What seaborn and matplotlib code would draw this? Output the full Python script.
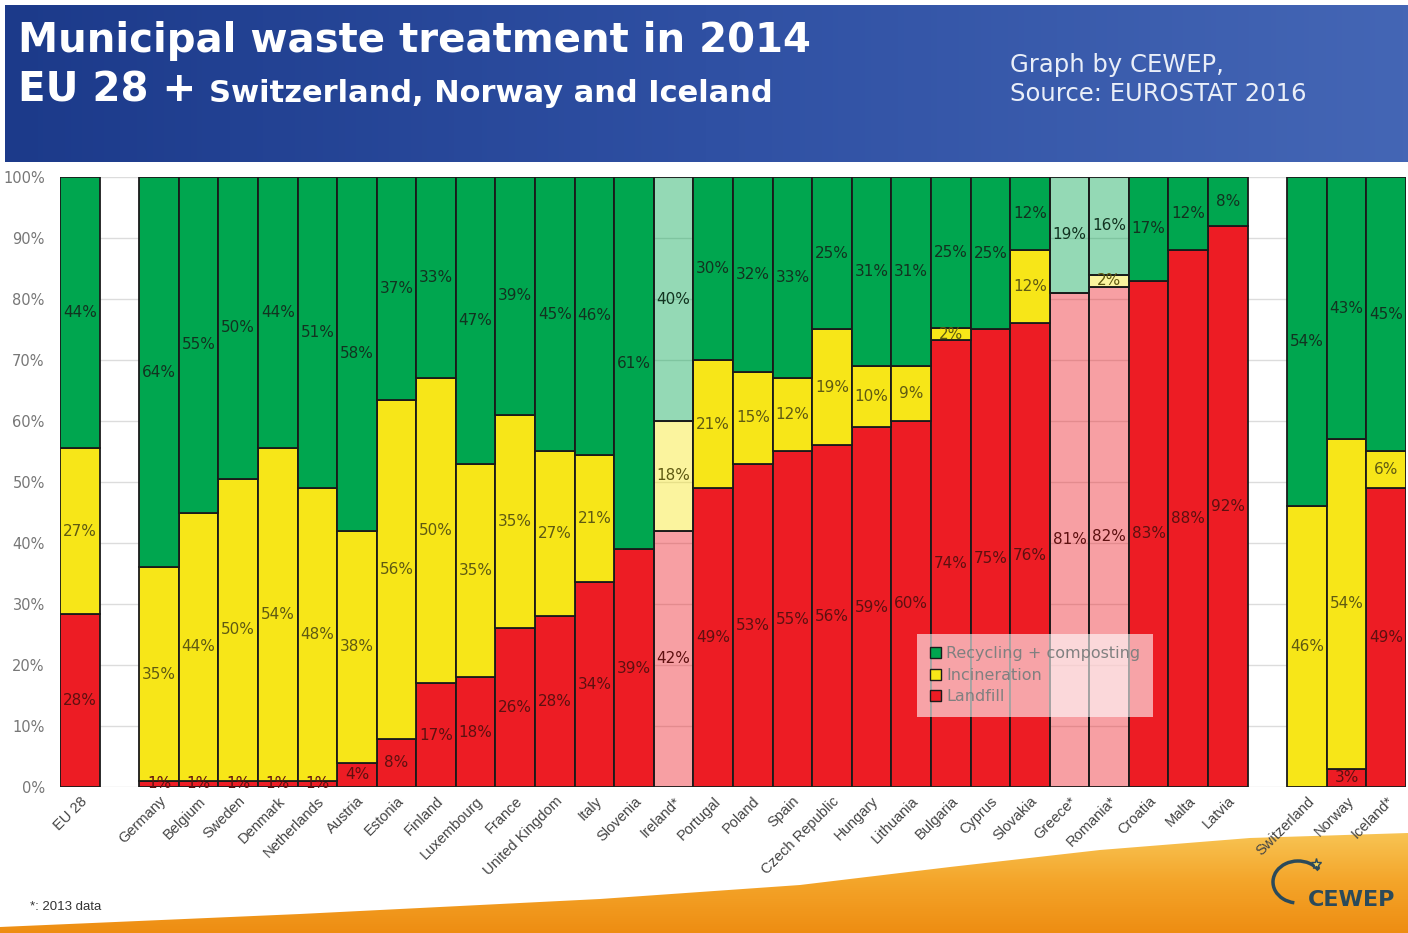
import numpy as np
import pandas as pd
import matplotlib
matplotlib.use('Agg')
import matplotlib.pyplot as plt
import seaborn as sns
from matplotlib.colors import LinearSegmentedColormap, to_rgba
from matplotlib.patches import Patch, Polygon, Arc

# data (shares in %, as labelled on the chart)
countries = ['EU 28', 'Germany', 'Belgium', 'Sweden', 'Denmark', 'Netherlands',
             'Austria', 'Estonia', 'Finland', 'Luxembourg', 'France',
             'United Kingdom', 'Italy', 'Slovenia', 'Ireland*', 'Portugal',
             'Poland', 'Spain', 'Czech Republic', 'Hungary', 'Lithuania',
             'Bulgaria', 'Cyprus', 'Slovakia', 'Greece*', 'Romania*', 'Croatia',
             'Malta', 'Latvia', 'Switzerland', 'Norway', 'Iceland*']
landfill = [28, 1, 1, 1, 1, 1, 4, 8, 17, 18, 26, 28, 34, 39, 42, 49, 53, 55, 56,
            59, 60, 74, 75, 76, 81, 82, 83, 88, 92, 0, 3, 49]
incineration = [27, 35, 44, 50, 54, 48, 38, 56, 50, 35, 35, 27, 21, 0, 18, 21,
                15, 12, 19, 10, 9, 2, 0, 12, 0, 2, 0, 0, 0, 46, 54, 6]
recycling = [44, 64, 55, 50, 44, 51, 58, 37, 33, 47, 39, 45, 46, 61, 40, 30, 32,
             33, 25, 31, 31, 25, 25, 12, 19, 16, 17, 12, 8, 54, 43, 45]
data_2013 = ['Ireland*', 'Greece*', 'Romania*']
# slot order on the x axis, with empty slots separating the groups
slots = (['EU 28', 'gap_a'] + countries[1:29] + ['gap_b'] + countries[29:])

# styles
W, H = 1408, 933
green, yellow, red = '#00a64f', '#f7e618', '#ed1c24'
txt_cols = {'landfill': '#5e1010', 'incineration': '#5f5a12',
            'recycling': '#123320'}
edge = '#1a1a1a'

df = pd.DataFrame(dict(country=countries, landfill=landfill,
                       incineration=incineration, recycling=recycling))
layers = [('landfill', red, 'Landfill'),
          ('incineration', yellow, 'Incineration'),
          ('recycling', green, 'Recycling + composting')]
# 100 % stacked: normalise each country to its total
total = df[['landfill', 'incineration', 'recycling']].sum(axis=1)
for col, _, _ in layers:
    df[col + '_n'] = df[col] / total * 100

sns.set_style('white')
fig = plt.figure(figsize=(W / 100, H / 100), dpi=100)

# background decorations (header banner, orange swoosh, logo)
bg = fig.add_axes([0, 0, 1, 1], zorder=-1)
bg.set_xlim(0, W)
bg.set_ylim(H, 0)
bg.axis('off')
blue = LinearSegmentedColormap.from_list('hdr', ['#1c3a8a', '#2f50a3', '#4466b5'])
bg.imshow(np.linspace(0, 1, 256)[None, :], cmap=blue, aspect='auto',
          extent=[5, W, 162, 5], zorder=1)
swoosh = Polygon([(0, 927), (300, 914), (600, 899), (800, 885), (950, 867),
                  (1100, 850), (1250, 838), (1408, 833), (1408, 933), (0, 933)],
                 closed=True, facecolor='none', edgecolor='none')
bg.add_patch(swoosh)
orange = LinearSegmentedColormap.from_list('org', ['#f8c656', '#f4a52a', '#ee8d12'])
im = bg.imshow(np.linspace(0, 1, 256)[:, None], cmap=orange, aspect='auto',
               extent=[0, W, 933, 830], zorder=1)
im.set_clip_path(swoosh)
bg.add_patch(Arc((1298, 882), 50, 42, theta1=100, theta2=330, lw=2.5,
                 color='#2b4a5a', zorder=3))
bg.plot([1316], [864], marker='*', ms=8, color='#f2d25a', mec='#2b4a5a', zorder=4)

# main chart
ax = fig.add_axes([60 / W, 1 - 787 / H, 1346 / W, 610 / H])
bottom = np.zeros(len(df))
for col, color, label in layers:
    sns.barplot(data=df, x='country', y=col + '_n', order=slots, color=color,
                saturation=1, width=1, bottom=bottom, edgecolor=edge,
                linewidth=1.3, errorbar=None, ax=ax, zorder=2)
    bottom = bottom + df[col + '_n'].to_numpy()

for (col, color, label), cont in zip(layers, ax.containers):
    for bar, name in zip(cont, df['country']):
        if name in data_2013:
            bar.set_facecolor(to_rgba(color, 0.42))
    labels = ['{}%'.format(v) if v > 0 else '' for v in df[col]]
    ax.bar_label(cont, labels=labels, label_type='center', fontsize=11,
                 color=txt_cols[col], zorder=5)

ax.set_xlim(-0.5, len(slots) - 0.5)
ax.set_ylim(0, 100)
ax.set_yticks(range(0, 101, 10))
ax.set_yticklabels(['{}%'.format(t) for t in range(0, 101, 10)],
                   color='#777777', fontsize=10.5)
ax.set_xticks(range(len(slots)))
ax.set_xticklabels(['' if s.startswith('gap') else s for s in slots],
                   rotation=45, ha='right', rotation_mode='anchor',
                   color='#444444', fontsize=10.5, family='Liberation Sans')
ax.tick_params(axis='both', length=0)
ax.tick_params(axis='y', pad=11)
ax.tick_params(axis='x', pad=5)
ax.yaxis.grid(True, color='#dcdcdc', lw=1, zorder=0)
ax.set_axisbelow(True)
ax.set_xlabel('')
ax.set_ylabel('')
for sp in ax.spines.values():
    sp.set_visible(False)

handles = [Patch(facecolor=c, edgecolor=edge, lw=1, label=l)
           for _, c, l in layers[::-1]]
leg = ax.legend(handles=handles, loc='lower left', bbox_to_anchor=(0.637, 0.115),
                frameon=True, facecolor='white', edgecolor='none', framealpha=0.6,
                fontsize=11.5, labelcolor='#808080', handlelength=0.7,
                handleheight=0.7, handletextpad=0.3, labelspacing=0.4,
                borderpad=0.8, borderaxespad=0, fancybox=False)
leg.set_zorder(10)

# header texts
fig.text(18 / W, 1 - 52 / H, 'Municipal waste treatment in 2014', color='white',
         fontsize=29, fontweight='bold', va='baseline')
t1 = fig.text(18 / W, 1 - 102 / H, 'EU 28 +', color='white', fontsize=29,
              fontweight='bold', va='baseline')
# place the smaller part right after "EU 28 +"
x_end = t1.get_window_extent(renderer=fig.canvas.get_renderer()).x1
fig.text((x_end + 13) / W, 1 - 102 / H, 'Switzerland, Norway and Iceland',
         color='white', fontsize=22, fontweight='bold', va='baseline')
fig.text(1010 / W, 1 - 72 / H, 'Graph by CEWEP,', color='#e9eef8',
         fontsize=17.5, va='baseline')
fig.text(1010 / W, 1 - 101 / H, 'Source: EUROSTAT 2016', color='#e9eef8',
         fontsize=17.5, va='baseline')

# footer
fig.text(30 / W, 1 - 910 / H, '*: 2013 data', color='#333333', fontsize=9.5,
         family='Liberation Sans', va='baseline')
fig.text(1308 / W, 1 - 906 / H, 'CEWEP', color='#2b4a5a', fontsize=16,
         fontweight='bold', va='baseline', family='DejaVu Sans')

fig.savefig('out.png', dpi=100)
